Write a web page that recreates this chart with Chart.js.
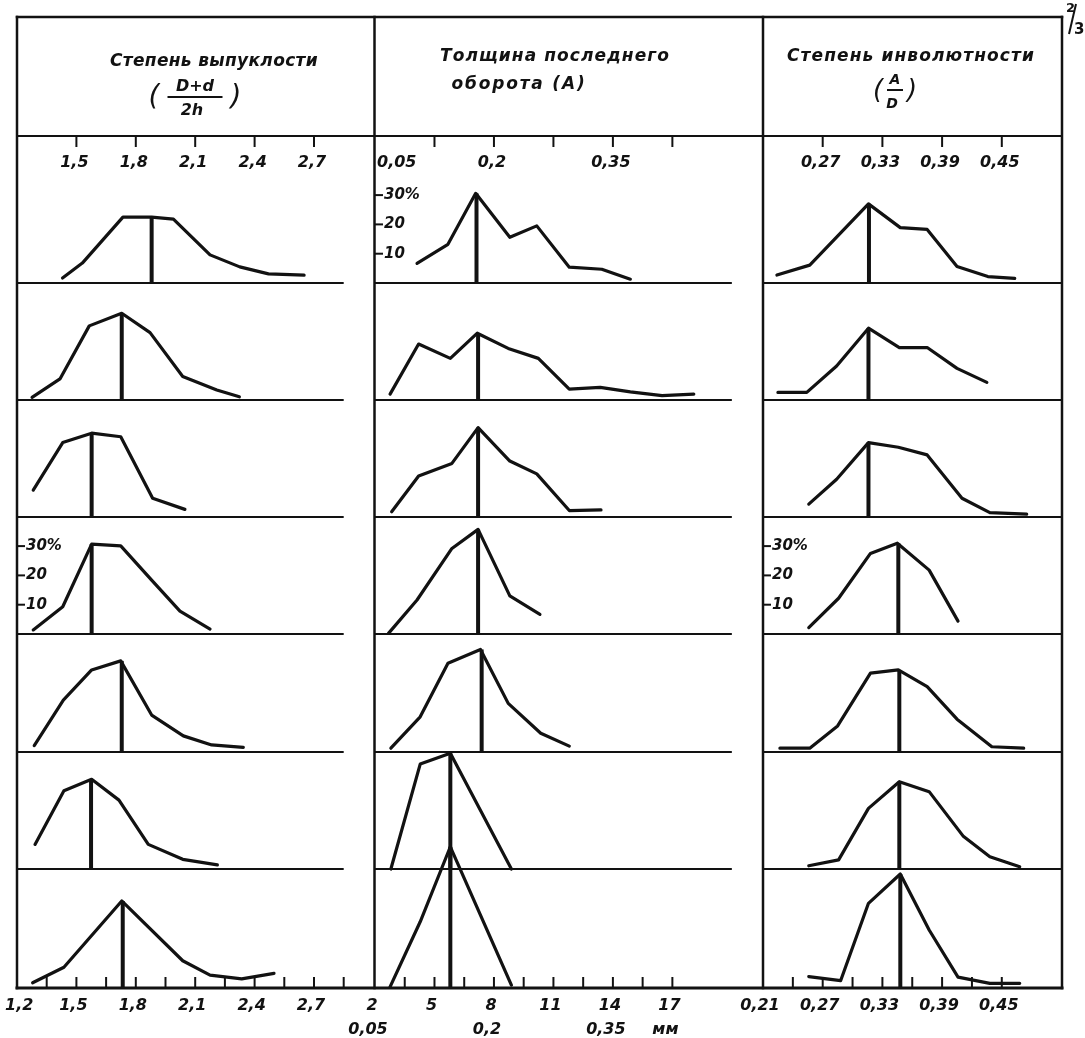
<!DOCTYPE html>
<html>
<head>
<meta charset="utf-8">
<script src="https://cdn.jsdelivr.net/npm/chart.js@4.4.1/dist/chart.umd.min.js"></script>
<style>
  html, body { margin: 0; background: #fff; }
  #sheet { display: block; }
</style>
</head>
<body>
<canvas id="sheet" width="1085" height="1038"></canvas>
<script>
// Вариационные кривые: [значение признака, % экземпляров], по 7 выборок на столбец
// Степень выпуклости (D+d)/2h
const convexSeries = [
  [[1.43, 1.7], [1.53, 6.8], [1.735, 22.5], [1.88, 22.5], [1.99, 21.8], [2.175, 9.6], [2.325, 5.5], [2.47, 3.1], [2.65, 2.7]],
  [[1.276, 0.9], [1.417, 7.2], [1.565, 25.3], [1.729, 29.6], [1.872, 23.0], [2.037, 8.0], [2.209, 3.4], [2.323, 1.1]],
  [[1.282, 9.2], [1.431, 25.4], [1.577, 28.6], [1.724, 27.4], [1.885, 6.4], [2.048, 2.6]],
  [[1.282, 1.4], [1.431, 9.3], [1.577, 30.7], [1.724, 30.1], [1.88, 18.4], [2.023, 7.8], [2.175, 1.7]],
  [[1.287, 2.2], [1.434, 17.7], [1.577, 28.0], [1.724, 31.1], [1.88, 12.6], [2.04, 5.5], [2.183, 2.4], [2.343, 1.6]],
  [[1.291, 8.4], [1.437, 26.7], [1.577, 30.6], [1.715, 23.5], [1.863, 8.4], [2.037, 3.3], [2.212, 1.4]],
  [[1.279, 1.8], [1.437, 7.1], [1.729, 29.7], [2.037, 9.3], [2.175, 4.4], [2.335, 3.1], [2.498, 5.0]]
];
const convexModes = [[1.88, 22.5], [1.729, 29.6], [1.577, 28.6], [1.577, 30.7], [1.729, 31.1], [1.574, 30.6], [1.734, 29.7]];

// Толщина последнего оборота (A), мм
const thicknessSeries = [
  [[0.103, 6.7], [0.142, 13.2], [0.177, 30.6], [0.22, 15.6], [0.254, 19.5], [0.295, 5.4], [0.336, 4.7], [0.372, 1.3]],
  [[0.069, 2.0], [0.105, 19.1], [0.145, 14.2], [0.179, 22.8], [0.218, 17.6], [0.256, 14.2], [0.295, 3.7], [0.334, 4.3], [0.372, 2.8], [0.412, 1.5], [0.452, 2.0]],
  [[0.071, 1.8], [0.105, 14.0], [0.147, 18.3], [0.18, 30.5], [0.22, 19.1], [0.254, 14.7], [0.295, 2.2], [0.335, 2.4]],
  [[0.067, 0.2], [0.103, 11.6], [0.147, 29.2], [0.18, 35.7], [0.22, 13.0], [0.258, 6.7]],
  [[0.07, 1.3], [0.107, 12.0], [0.142, 30.3], [0.183, 35.0], [0.218, 16.6], [0.259, 6.4], [0.295, 2.0]],
  [[0.07, 0], [0.107, 35.8], [0.145, 39.5], [0.222, 0]],
  [[0.069, 0.4], [0.107, 22.6], [0.145, 48.2], [0.222, 1.0]]
];
const thicknessModes = [[0.178, 30.6], [0.18, 22.8], [0.18, 30.5], [0.18, 35.7], [0.1845, 35.0], [0.145, 39.5], [0.145, 48.2]];

// Степень инволютности A/D
const involuteSeries = [
  [[0.224, 2.7], [0.257, 6.1], [0.316, 27.0], [0.348, 18.9], [0.375, 18.3], [0.405, 5.6], [0.436, 2.2], [0.463, 1.6]],
  [[0.225, 2.6], [0.254, 2.6], [0.284, 11.6], [0.316, 24.5], [0.347, 17.9], [0.375, 17.9], [0.405, 10.8], [0.435, 6.0]],
  [[0.256, 4.4], [0.284, 12.9], [0.316, 25.4], [0.346, 23.8], [0.375, 21.2], [0.41, 6.4], [0.438, 1.5], [0.475, 1.0]],
  [[0.256, 2.2], [0.286, 12.2], [0.318, 27.5], [0.345, 31.0], [0.377, 21.8], [0.406, 4.4]],
  [[0.227, 1.3], [0.257, 1.3], [0.285, 8.9], [0.318, 26.9], [0.346, 28.0], [0.375, 22.3], [0.405, 11.2], [0.44, 1.8], [0.472, 1.3]],
  [[0.256, 1.1], [0.286, 3.1], [0.316, 20.7], [0.347, 29.8], [0.377, 26.4], [0.411, 11.3], [0.438, 4.2], [0.468, 0.8]],
  [[0.256, 3.9], [0.288, 2.5], [0.316, 28.9], [0.348, 38.9], [0.377, 19.8], [0.406, 3.7], [0.438, 1.6], [0.468, 1.6]]
];
const involuteModes = [[0.3165, 27.0], [0.316, 24.5], [0.316, 25.4], [0.346, 31.0], [0.347, 28.0], [0.347, 29.8], [0.348, 38.9]];

// шкалы: верхняя (под шапкой) и нижняя
const convexTopTicks = [1.5, 1.8, 2.1, 2.4, 2.7];
const convexTopLabels = ['1,5', '1,8', '2,1', '2,4', '2,7'];
const convexBottomTicks = [1.35, 1.5, 1.65, 1.8, 1.95, 2.1, 2.25, 2.4, 2.55, 2.7, 2.85];
const convexBottomValues = [1.2, 1.5, 1.8, 2.1, 2.4, 2.7];
const convexBottomLabels = ['1,2', '1,5', '1,8', '2,1', '2,4', '2,7'];

const thicknessTopTicks = [0.125, 0.2, 0.275, 0.35, 0.425];
const thicknessTopValues = [0.05, 0.2, 0.35];
const thicknessTopLabels = ['0,05', '0,2', '0,35'];
const thicknessBottomTicks = [0.0875, 0.125, 0.1625, 0.2, 0.2375, 0.275, 0.3125, 0.35, 0.3875, 0.425];
const thicknessBottomValues = [0.05, 0.125, 0.2, 0.275, 0.35, 0.425];
const thicknessDivLabels = ['2', '5', '8', '11', '14', '17'];
const thicknessMmValues = [0.05, 0.2, 0.35, 0.425];
const thicknessMmLabels = ['0,05', '0,2', '0,35', 'мм'];

const involuteTopTicks = [0.27, 0.33, 0.39, 0.45];
const involuteTopLabels = ['0,27', '0,33', '0,39', '0,45'];
const involuteBottomTicks = [0.24, 0.27, 0.3, 0.33, 0.36, 0.39, 0.42, 0.45];
const involuteBottomValues = [0.21, 0.27, 0.33, 0.39, 0.45];
const involuteBottomLabels = ['0,21', '0,27', '0,33', '0,39', '0,45'];

const pctTicks = [10, 20, 30];
const pctLabels = ['10', '20', '30%'];

// ---- разметка листа ----
const INK = '#121212';
const FONT = '"DejaVu Sans", "Liberation Sans", sans-serif';
const FRAME = { left: 17, top: 17, right: 1062, bottom: 988 };
const HEADER_BOTTOM = 136;
const ROW_BASE = [283, 400, 517, 634, 752, 869, 988];
const PX_PER_PCT = 2.93;

const columns = [
  { series: convexSeries, modes: convexModes, left: 17, start: 1.2, pxPerUnit: 198, end: 2.85,
    topTicks: convexTopTicks, topValues: convexTopTicks, topLabels: convexTopLabels,
    bottomTicks: convexBottomTicks, bottomRows: [[convexBottomValues, convexBottomLabels]], pctRow: 3 },
  { series: thicknessSeries, modes: thicknessModes, left: 375, start: 0.05, pxPerUnit: 793, end: 0.5,
    topTicks: thicknessTopTicks, topValues: thicknessTopValues, topLabels: thicknessTopLabels,
    bottomTicks: thicknessBottomTicks,
    bottomRows: [[thicknessBottomValues, thicknessDivLabels], [thicknessMmValues, thicknessMmLabels]], pctRow: 0 },
  { series: involuteSeries, modes: involuteModes, left: 763, start: 0.21, pxPerUnit: 995, end: 0.51,
    topTicks: involuteTopTicks, topValues: involuteTopTicks, topLabels: involuteTopLabels,
    bottomTicks: involuteBottomTicks, bottomRows: [[involuteBottomValues, involuteBottomLabels]], pctRow: 3 }
];

const scales = {};
columns.forEach((col, c) => {
  scales['x' + c] = {
    type: 'linear', display: false,
    min: col.start - (col.left - FRAME.left) / col.pxPerUnit,
    max: col.start + (FRAME.right - col.left) / col.pxPerUnit
  };
});
ROW_BASE.forEach((base, r) => {
  scales['y' + r] = {
    type: 'linear', display: false,
    min: -(FRAME.bottom - base) / PX_PER_PCT,
    max: (base - FRAME.top) / PX_PER_PCT
  };
});

const datasets = [];
columns.forEach((col, c) => {
  col.series.forEach((pts, r) => {
    datasets.push({
      data: pts.map(([x, y]) => ({ x, y })),
      xAxisID: 'x' + c, yAxisID: 'y' + r,
      borderWidth: 3.2, borderJoinStyle: 'round', borderCapStyle: 'round'
    });
    const [mx, my] = col.modes[r];
    datasets.push({
      data: [{ x: mx, y: 0 }, { x: mx, y: my }],
      xAxisID: 'x' + c, yAxisID: 'y' + r,
      borderWidth: 4, borderCapStyle: 'butt'
    });
  });
});

function hline(ctx, x1, x2, y, w) {
  ctx.lineWidth = w;
  ctx.beginPath(); ctx.moveTo(x1, y); ctx.lineTo(x2, y); ctx.stroke();
}
function vline(ctx, x, y1, y2, w) {
  ctx.lineWidth = w;
  ctx.beginPath(); ctx.moveTo(x, y1); ctx.lineTo(x, y2); ctx.stroke();
}
// текст, растянутый разрядкой до заданной ширины
function spaced(ctx, text, cx, cy, width) {
  ctx.letterSpacing = '0px';
  const w = ctx.measureText(text).width;
  const gap = Math.max(0, (width - w) / text.length);
  ctx.letterSpacing = gap + 'px';
  ctx.textAlign = 'left';
  ctx.fillText(text, cx - width / 2, cy);
  ctx.letterSpacing = '0px';
}
// подпись по центру, но не вылезая за левый край листа
function centered(ctx, text, x, y) {
  const half = ctx.measureText(text).width / 2;
  ctx.textAlign = 'center';
  ctx.fillText(text, Math.max(x, half + 5), y);
}
function fraction(ctx, num, den, cx, cy, barW, parenGap, size) {
  ctx.textAlign = 'center';
  ctx.font = `italic bold ${size}px ${FONT}`;
  ctx.fillText(num, cx, cy - 10);
  ctx.fillText(den, cx - 3, cy + 14);
  hline(ctx, cx - barW / 2, cx + barW / 2, cy, 2);
  ctx.font = `italic ${size + 12}px ${FONT}`;
  ctx.fillText('(', cx - parenGap, cy + 1);
  ctx.fillText(')', cx + parenGap, cy + 1);
}

const sheetGrid = {
  id: 'sheetGrid',
  beforeDatasetsDraw(chart) {
    const ctx = chart.ctx;
    ctx.save();
    ctx.strokeStyle = INK;
    ctx.lineCap = 'square';
    // рамка и шапка
    hline(ctx, FRAME.left, FRAME.right, FRAME.top, 2.5);
    hline(ctx, FRAME.left, FRAME.right, HEADER_BOTTOM, 2);
    hline(ctx, FRAME.left, FRAME.right, FRAME.bottom, 3);
    vline(ctx, FRAME.left, FRAME.top, FRAME.bottom, 2.5);
    vline(ctx, FRAME.right, FRAME.top, FRAME.bottom, 2.5);
    vline(ctx, 374.5, FRAME.top, FRAME.bottom, 2.5);
    vline(ctx, 763, FRAME.top, FRAME.bottom, 2.5);
    ctx.lineCap = 'butt';

    columns.forEach((col, c) => {
      const xs = chart.scales['x' + c];
      const xEnd = Math.min(xs.getPixelForValue(col.end), FRAME.right);
      // линии нулевого уровня по строкам
      for (let r = 0; r < ROW_BASE.length - 1; r++) {
        const y = chart.scales['y' + r].getPixelForValue(0);
        hline(ctx, col.left, xEnd, y, 2);
      }
      col.topTicks.forEach(v => vline(ctx, xs.getPixelForValue(v), HEADER_BOTTOM, HEADER_BOTTOM + 11, 2));
      col.bottomTicks.forEach(v => vline(ctx, xs.getPixelForValue(v), FRAME.bottom, FRAME.bottom - 11, 2));
      // шкала процентов
      const ys = chart.scales['y' + col.pctRow];
      pctTicks.forEach(v => hline(ctx, col.left, col.left + 8, ys.getPixelForValue(v), 2));
    });
    ctx.restore();
  },
  afterDraw(chart) {
    const ctx = chart.ctx;
    ctx.save();
    ctx.fillStyle = INK;
    ctx.strokeStyle = INK;
    ctx.textBaseline = 'middle';

    columns.forEach((col, c) => {
      const xs = chart.scales['x' + c];
      ctx.font = `italic bold 16px ${FONT}`;
      col.topValues.forEach((v, i) => {
        const x = xs.getPixelForValue(v);
        if (x <= col.left + 1) { ctx.textAlign = 'left'; ctx.fillText(col.topLabels[i], x + 2, 163); }
        else centered(ctx, col.topLabels[i], x - 2, 163);
      });
      col.bottomRows.forEach(([vals, labels], k) => {
        vals.forEach((v, i) => centered(ctx, labels[i], xs.getPixelForValue(v) - 3 - 4 * k, 1006 + 24 * k));
      });
      const ys = chart.scales['y' + col.pctRow];
      ctx.font = `italic bold 15px ${FONT}`;
      ctx.textAlign = 'left';
      pctTicks.forEach((v, i) => ctx.fillText(pctLabels[i], col.left + 9, ys.getPixelForValue(v)));
    });

    // шапка
    ctx.font = `italic bold 17px ${FONT}`;
    spaced(ctx, 'Степень выпуклости', 214, 62, 208);
    spaced(ctx, 'Толщина последнего', 555, 57, 230);
    spaced(ctx, 'оборота (A)', 519, 85, 135);
    spaced(ctx, 'Степень инволютности', 911, 57, 248);
    fraction(ctx, 'D+d', '2h', 195, 97, 55, 41, 16);
    fraction(ctx, 'A', 'D', 895, 90, 16, 17, 14);

    // пометка в углу листа
    ctx.font = `bold 13px ${FONT}`;
    ctx.textAlign = 'left';
    ctx.fillText('2', 1066, 9);
    ctx.lineWidth = 2;
    ctx.beginPath(); ctx.moveTo(1076, 4); ctx.lineTo(1069, 34); ctx.stroke();
    ctx.font = `bold 15px ${FONT}`;
    ctx.fillText('3', 1074, 30);
    ctx.restore();
  }
};

new Chart(document.getElementById('sheet'), {
  type: 'line',
  data: { datasets },
  options: {
    responsive: false,
    animation: false,
    events: [],
    layout: { padding: { left: FRAME.left, top: FRAME.top, right: 1085 - FRAME.right, bottom: 1038 - FRAME.bottom } },
    scales,
    elements: {
      point: { radius: 0 },
      line: { borderColor: INK, tension: 0, fill: false }
    },
    plugins: { legend: { display: false }, tooltip: { enabled: false } }
  },
  plugins: [sheetGrid]
});
</script>
</body>
</html>
